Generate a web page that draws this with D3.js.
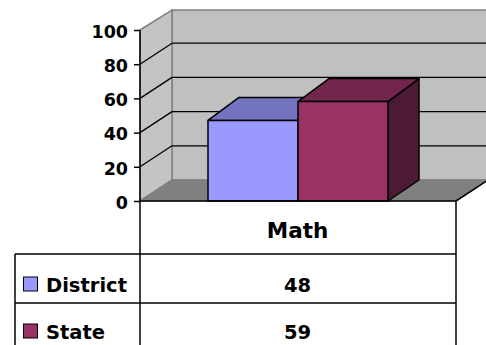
<!DOCTYPE html>
<html><head><meta charset="utf-8">
<script src="https://cdn.jsdelivr.net/npm/d3@7"></script>
<style>html,body{margin:0;padding:0;background:#fff;overflow:hidden}</style>
</head><body>
<svg id="c" width="486" height="345"></svg>
<script>
const categories = ["Math"];
const seriesNames = ["District", "State"];
const districtValues = [48];
const stateValues = [59];
const yTicks = [0, 20, 40, 60, 80, 100];
const seriesColors = ["#9999ff", "#993366"];

const svg = d3.select("#c");
const FONT = "DejaVu Sans, sans-serif";
const dx = 32, dy = -21;      // wall depth
const bdx = 31, bdy = -23;    // bar depth
const y = d3.scaleLinear().domain([0, 100]).range([201, 30]);
const x0 = d3.scaleBand().domain(categories).range([140, 456]);
const x1 = d3.scaleBand().domain(seriesNames).range([68, 248]);
const seriesVals = [districtValues, stateValues];
const shade = (c, k) => { const o = d3.rgb(c); return d3.rgb(o.r * k, o.g * k, o.b * k).formatHex(); };
const pts = a => a.map(p => p.join(",")).join(" ");

const xL = x0.range()[0], xR = x0.range()[1];
// back wall
svg.append("polygon")
  .attr("points", pts([[xL + dx, y(100) + dy + 1], [xR + dx + 40, y(100) + dy + 1], [xR + dx + 40, y(0) + dy], [xL + dx, y(0) + dy]]))
  .attr("fill", "#c0c0c0").attr("stroke", "#808080").attr("stroke-width", 1.5);
// side wall
svg.append("polygon")
  .attr("points", pts([[xL, y(100)], [xL + dx, y(100) + dy + 1], [xL + dx, y(0) + dy], [xL, y(0)]]))
  .attr("fill", "#c4c4c4").attr("stroke", "#808080").attr("stroke-width", 1.5);
// floor
svg.append("polygon")
  .attr("points", pts([[xL, y(0)], [xR, y(0)], [xR + dx, y(0) + dy], [xL + dx, y(0) + dy]]))
  .attr("fill", "#808080").attr("stroke", "#808080").attr("stroke-width", 1);
svg.append("line").attr("x1", xR).attr("y1", y(0)).attr("x2", xR + dx).attr("y2", y(0) + dy)
  .attr("stroke", "#000").attr("stroke-width", 1.5);

// gridlines
const inner = yTicks.filter(t => t > 0 && t < 100);
svg.selectAll(".gb").data(inner).join("line")
  .attr("x1", xL + dx).attr("x2", 486).attr("y1", d => y(d) + dy).attr("y2", d => y(d) + dy)
  .attr("stroke", "#000").attr("stroke-width", 1.3);
svg.selectAll(".gs").data(inner).join("line")
  .attr("x1", xL).attr("x2", xL + dx).attr("y1", d => y(d)).attr("y2", d => y(d) + dy)
  .attr("stroke", "#000").attr("stroke-width", 1.3);

// bars
categories.forEach((cat, ci) => {
  seriesNames.forEach((s, si) => {
    const v = seriesVals[si][ci];
    const xa = x0(cat) + x1(s), xb = xa + x1.bandwidth();
    const yt = y(v) + 1.5, yb = y(0);
    const g = svg.append("g").attr("stroke", "#000").attr("stroke-width", 1.5).attr("stroke-linejoin", "round");
    g.append("polygon").attr("points", pts([[xb, yb], [xb + bdx, yb + dy], [xb + bdx, yt + bdy], [xb, yt]]))
      .attr("fill", shade(seriesColors[si], 0.5));
    g.append("polygon").attr("points", pts([[xa, yt], [xb, yt], [xb + bdx, yt + bdy], [xa + bdx, yt + bdy]]))
      .attr("fill", shade(seriesColors[si], 0.75));
    g.append("rect").attr("x", xa).attr("y", yt).attr("width", xb - xa).attr("height", yb - yt)
      .attr("fill", seriesColors[si]);
  });
});

// axis
const ax = svg.append("g").attr("transform", `translate(${xL},0)`)
  .call(d3.axisLeft(y).tickValues(yTicks).tickSize(6).tickPadding(6));
ax.select(".domain").remove();
ax.selectAll(".tick line").attr("stroke", "#000").attr("stroke-width", 1.5);
ax.selectAll(".tick text").attr("font-family", FONT).attr("font-weight", "bold")
  .attr("font-size", 17.5).attr("fill", "#000").attr("dy", "0.42em");

// table lines
const T = svg.append("g").attr("stroke", "#000").attr("stroke-width", 1.5);
T.append("line").attr("x1", xL).attr("x2", xL).attr("y1", y(100)).attr("y2", 345);
T.append("line").attr("x1", xR).attr("x2", xR).attr("y1", y(0)).attr("y2", 345);
T.append("line").attr("x1", xL).attr("x2", xR).attr("y1", y(0)).attr("y2", y(0));
T.append("line").attr("x1", 15).attr("x2", 15).attr("y1", 254).attr("y2", 345);
T.append("line").attr("x1", 15).attr("x2", xR).attr("y1", 254).attr("y2", 254);
T.append("line").attr("x1", 15).attr("x2", xR).attr("y1", 303).attr("y2", 303);

// table text
categories.forEach(cat => {
  const cx = x0(cat) + x0.bandwidth() / 2 - 0.5;
  svg.append("text").attr("x", cx).attr("y", 238).attr("text-anchor", "middle")
    .attr("font-family", FONT).attr("font-weight", "bold").attr("font-size", 21.5).text(cat);
});
const rowBase = [291.5, 338.5];
seriesNames.forEach((s, si) => {
  svg.append("rect").attr("x", 23.5).attr("y", rowBase[si] - 14.5).attr("width", 14).attr("height", 14)
    .attr("fill", seriesColors[si]).attr("stroke", "#000").attr("stroke-width", 1);
  svg.append("text").attr("x", 46).attr("y", rowBase[si])
    .attr("font-family", FONT).attr("font-weight", "bold").attr("font-size", 19.5).text(s);
  categories.forEach((cat, ci) => {
    svg.append("text").attr("x", x0(cat) + x0.bandwidth() / 2 - 0.5).attr("y", rowBase[si])
      .attr("text-anchor", "middle").attr("font-family", FONT).attr("font-weight", "bold")
      .attr("font-size", 19.5).text(seriesVals[si][ci]);
  });
});
</script>
</body></html>
